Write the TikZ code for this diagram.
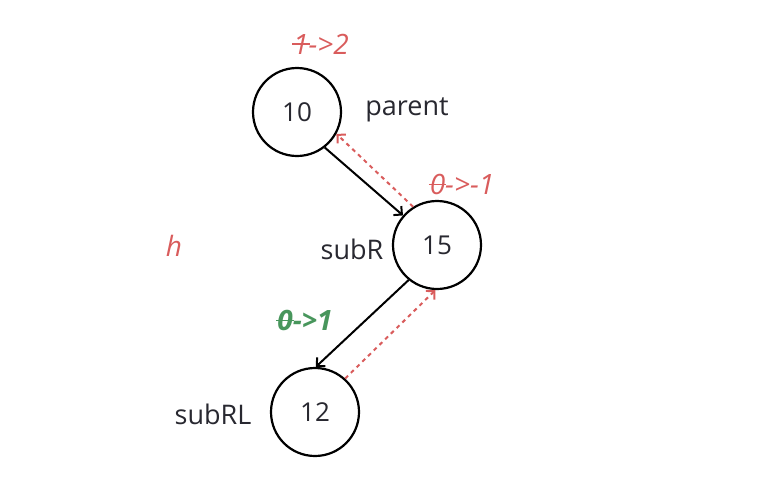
\documentclass[tikz,border=0pt]{standalone}
\usepackage{fontspec}
\setmainfont{Open Sans}
\usetikzlibrary{arrows.meta}
\definecolor{txt}{RGB}{40,40,48}
\definecolor{redc}{RGB}{217,92,92}
\definecolor{greenc}{RGB}{72,150,92}
\newcommand\stk[1]{\ooalign{#1\cr\hidewidth\rule[0.32em]{0.62em}{0.06em}\hidewidth\cr}}
\tikzset{
  tnode/.style={circle,draw=black,line width=2.2pt,minimum size=88pt,inner sep=0pt,text=txt,font=\fontsize{26}{26}\selectfont},
  lbl/.style={text=txt,font=\fontsize{27}{27}\selectfont,inner sep=0pt},
  rlbl/.style={text=redc,font=\fontsize{28}{28}\selectfont\itshape,inner sep=0pt},
  glbl/.style={text=greenc,font=\fontsize{28}{28}\selectfont\itshape\bfseries,inner sep=0pt},
  edge/.style={draw=black,line width=2pt,-{Straight Barb[length=6pt,width=12pt,line width=2pt]}},
  back/.style={draw=redc,line width=2pt,dash pattern=on 4pt off 4pt,-{Straight Barb[length=6pt,width=12pt,line width=2pt]}}
}
\begin{document}
\begin{tikzpicture}[x=1pt,y=-1pt]
\useasboundingbox (0,0) rectangle (767,482);
\node[tnode] (n10) at (297,112) {10};
\node[tnode] (n15) at (437,245) {15};
\node[tnode] (n12) at (315,412) {12};
\node[rlbl] (l1) at (321,44) {\stk{1}->2};
\node[lbl] (lp) at (407,110) {parent};
\node[rlbl] (l2) at (462,184) {\stk{0}->-1};
\node[lbl] (lr) at (352,249) {subR};
\node[rlbl] (lh) at (174,246) {h};
\node[glbl] (l3) at (305,320) {\stk{0}->1};
\node[lbl] (lrl) at (213,414) {subRL};
\draw[edge] (n10.-52) -- (n15.139);
\draw[back] (n15.122) -- (n10.-29);
\draw[edge] (n15.231) -- (n12.89);
\draw[back] (n12.48) -- (n15.268);
\end{tikzpicture}
\end{document}
